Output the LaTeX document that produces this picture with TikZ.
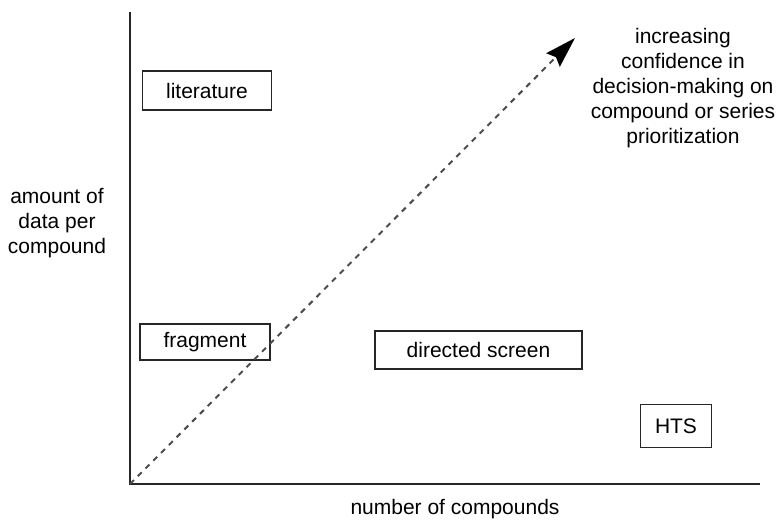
\documentclass[tikz,border=0pt]{standalone}
\usepackage{fontspec}
\setmainfont{Liberation Sans}
\usetikzlibrary{arrows.meta}
\begin{document}
\begin{tikzpicture}[x=1pt,y=-1pt,
  every node/.style={font=\fontsize{21}{25}\selectfont, inner sep=0pt},
  catbox/.style={draw=black!85, line width=1.3pt, minimum width=#1},
  axis/.style={draw=black!85, line width=1.4pt},
  trend/.style={draw=black!70, line width=2pt, dash pattern=on 5.5pt off 5.5pt,
    -{Stealth[length=31pt,width=19pt,inset=4pt,black]}}
]
\useasboundingbox (0,0) rectangle (780,523);
\coordinate (origin) at (130,484);
\coordinate (ytop) at (130,12);
\coordinate (xend) at (760,484);
\coordinate (tip) at (575,38);
\draw[axis] (ytop) -- (origin) -- (xend);
\node[catbox=129pt, minimum height=39pt] (lit) at (207,90.5) {literature};
\node[catbox=130pt, minimum height=36pt] (frag) at (205,342) {fragment};
\node[catbox=207pt, minimum height=38pt] (dir) at (478.5,350) {directed screen};
\node[catbox=71pt, minimum height=43pt] (hts) at (676,426) {HTS};
\draw[trend] (origin) -- (tip);
\node[align=center] (conf) at (683,88) {increasing\\confidence in\\decision-making on\\compound or series\\prioritization};
\node[align=center] (ylab) at (57,223) {amount of\\data per\\compound};
\node (xlab) at (455,509) {number of compounds};
\end{tikzpicture}
\end{document}
